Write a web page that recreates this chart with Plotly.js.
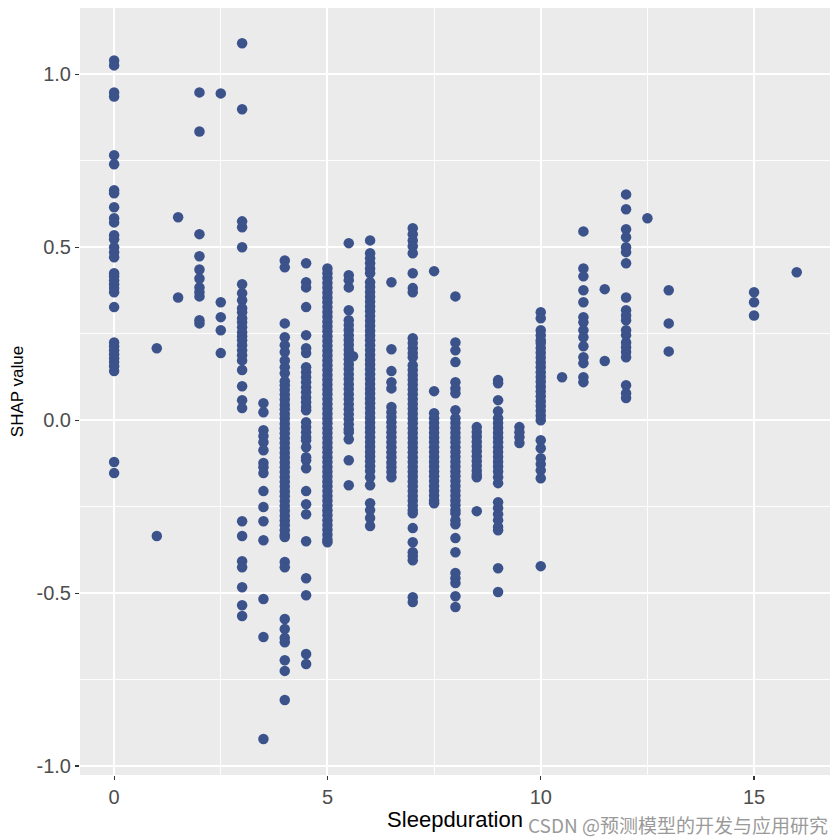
<!DOCTYPE html>
<html>
<head>
<meta charset="utf-8">
<script src="https://cdn.plot.ly/plotly-3.0.1.min.js"></script>
<style>html,body{margin:0;padding:0;background:#fff}#chart{width:840px;height:840px}</style>
</head>
<body>
<div id="chart"></div>
<script>
// Sleepduration values (x) and SHAP values (y) per column
const sleep0 = [1.040, 1.026, 0.948, 0.936, 0.766, 0.740, 0.665, 0.656, 0.616, 0.584, 0.572, 0.535, 0.523, 0.500, 0.486, 0.471, 0.425, 0.416, 0.405, 0.393, 0.382, 0.370, 0.327, 0.225, 0.214, 0.202, 0.191, 0.179, 0.168, 0.156, 0.142, -0.121, -0.153];
const sleep1 = [0.208, -0.335];
const sleep1_5 = [0.587, 0.355];
const sleep2 = [0.948, 0.835, 0.538, 0.474, 0.436, 0.410, 0.384, 0.370, 0.358, 0.289, 0.280];
const sleep2_5 = [0.945, 0.341, 0.298, 0.260, 0.194];
const sleep3 = [1.090, 0.899, 0.575, 0.558, 0.500, 0.393, 0.367, 0.347, 0.324, 0.312, 0.295, 0.283, 0.269, 0.254, 0.243, 0.231, 0.217, 0.202, 0.188, 0.173, 0.145, 0.098, 0.058, 0.035, -0.292, -0.335, -0.408, -0.425, -0.483, -0.535, -0.566];
const sleep3_5 = [0.049, 0.023, -0.029, -0.046, -0.064, -0.087, -0.124, -0.136, -0.153, -0.205, -0.251, -0.292, -0.347, -0.517, -0.627, -0.922];
const sleep4 = [0.462, 0.442, 0.280, 0.240, 0.217, 0.197, 0.173, 0.153, 0.136, 0.113, 0.101, 0.088, 0.074, 0.060, 0.045, 0.032, 0.018, 0.005, -0.010, -0.024, -0.038, -0.052, -0.066, -0.080, -0.094, -0.108, -0.122, -0.136, -0.150, -0.164, -0.178, -0.192, -0.206, -0.220, -0.234, -0.248, -0.262, -0.276, -0.290, -0.304, -0.318, -0.332, -0.338, -0.410, -0.425, -0.575, -0.604, -0.630, -0.642, -0.694, -0.725, -0.809];
const sleep4_5 = [0.454, 0.399, 0.384, 0.327, 0.246, 0.208, 0.194, 0.153, 0.139, 0.124, 0.110, 0.095, 0.081, 0.066, 0.052, 0.038, 0.029, -0.006, -0.020, -0.035, -0.049, -0.058, -0.078, -0.107, -0.116, -0.139, -0.205, -0.243, -0.272, -0.350, -0.457, -0.506, -0.676, -0.705];
const sleep5 = [0.439, 0.425, 0.411, 0.397, 0.383, 0.369, 0.355, 0.341, 0.327, 0.313, 0.299, 0.285, 0.271, 0.257, 0.243, 0.229, 0.215, 0.201, 0.187, 0.173, 0.159, 0.145, 0.131, 0.117, 0.103, 0.089, 0.075, 0.061, 0.047, 0.033, 0.019, 0.005, -0.009, -0.023, -0.037, -0.051, -0.065, -0.079, -0.093, -0.107, -0.121, -0.135, -0.149, -0.163, -0.177, -0.191, -0.205, -0.219, -0.233, -0.247, -0.261, -0.275, -0.289, -0.303, -0.317, -0.331, -0.345, -0.353];
const sleep5_5 = [0.512, 0.419, 0.405, 0.384, 0.318, 0.289, 0.275, 0.261, 0.246, 0.232, 0.218, 0.204, 0.190, 0.176, 0.162, 0.148, 0.133, 0.119, 0.104, 0.090, 0.075, 0.061, 0.046, 0.032, 0.017, 0.003, -0.012, -0.026, -0.035, -0.055, -0.116, -0.188];
const sleep5_6 = [0.185];
const sleep6 = [0.520, 0.483, 0.468, 0.454, 0.439, 0.425, 0.399, 0.385, 0.371, 0.357, 0.343, 0.329, 0.315, 0.301, 0.287, 0.273, 0.259, 0.245, 0.231, 0.217, 0.203, 0.189, 0.175, 0.161, 0.147, 0.133, 0.119, 0.105, 0.091, 0.077, 0.063, 0.049, 0.035, 0.021, 0.007, -0.007, -0.021, -0.035, -0.049, -0.063, -0.077, -0.091, -0.105, -0.119, -0.133, -0.147, -0.165, -0.188, -0.240, -0.260, -0.283, -0.306];
const sleep6_5 = [0.399, 0.205, 0.142, 0.110, 0.092, 0.038, 0.023, 0.009, -0.006, -0.020, -0.035, -0.049, -0.064, -0.078, -0.093, -0.107, -0.122, -0.136, -0.150, -0.165];
const sleep7 = [0.555, 0.538, 0.520, 0.503, 0.483, 0.425, 0.382, 0.370, 0.237, 0.223, 0.208, 0.194, 0.182, 0.159, 0.145, 0.131, 0.117, 0.103, 0.089, 0.075, 0.061, 0.047, 0.033, 0.019, 0.005, -0.009, -0.023, -0.037, -0.051, -0.065, -0.079, -0.093, -0.107, -0.121, -0.135, -0.149, -0.163, -0.177, -0.191, -0.205, -0.219, -0.233, -0.247, -0.260, -0.269, -0.312, -0.353, -0.382, -0.393, -0.405, -0.512, -0.526];
const sleep7_5 = [0.431, 0.084, 0.020, 0.006, -0.008, -0.022, -0.036, -0.050, -0.064, -0.078, -0.092, -0.106, -0.120, -0.134, -0.148, -0.162, -0.176, -0.190, -0.204, -0.218, -0.232, -0.240];
const sleep8 = [0.358, 0.225, 0.202, 0.168, 0.110, 0.092, 0.078, 0.029, 0.006, -0.008, -0.022, -0.036, -0.050, -0.064, -0.078, -0.092, -0.106, -0.120, -0.134, -0.148, -0.162, -0.176, -0.190, -0.204, -0.218, -0.232, -0.246, -0.260, -0.269, -0.289, -0.301, -0.341, -0.382, -0.442, -0.457, -0.471, -0.509, -0.540];
const sleep8_5 = [-0.020, -0.034, -0.048, -0.062, -0.076, -0.090, -0.104, -0.118, -0.132, -0.146, -0.158, -0.165, -0.263];
const sleep9 = [0.116, 0.107, 0.058, 0.026, 0.006, -0.008, -0.022, -0.036, -0.050, -0.064, -0.078, -0.092, -0.106, -0.120, -0.134, -0.148, -0.165, -0.182, -0.237, -0.254, -0.272, -0.289, -0.309, -0.318, -0.428, -0.497];
const sleep9_5 = [-0.020, -0.035, -0.049, -0.066];
const sleep10 = [0.312, 0.295, 0.260, 0.246, 0.231, 0.223, 0.209, 0.195, 0.181, 0.167, 0.153, 0.139, 0.125, 0.111, 0.097, 0.083, 0.069, 0.055, 0.041, 0.027, 0.013, 0.000, -0.058, -0.081, -0.110, -0.127, -0.145, -0.168, -0.422];
const sleep10_5 = [0.124];
const sleep11 = [0.546, 0.439, 0.416, 0.376, 0.341, 0.298, 0.283, 0.260, 0.240, 0.214, 0.182, 0.165, 0.124, 0.110];
const sleep11_5 = [0.379, 0.171];
const sleep12 = [0.653, 0.610, 0.552, 0.529, 0.500, 0.486, 0.454, 0.355, 0.318, 0.303, 0.289, 0.260, 0.246, 0.225, 0.211, 0.197, 0.182, 0.101, 0.078, 0.064];
const sleep12_5 = [0.584];
const sleep13 = [0.376, 0.280, 0.199];
const sleep15 = [0.370, 0.341, 0.303];
const sleep16 = [0.428];

const columns = [
  [0, sleep0], [1, sleep1], [1.5, sleep1_5], [2, sleep2], [2.5, sleep2_5], [3, sleep3], [3.5, sleep3_5],
  [4, sleep4], [4.5, sleep4_5], [5, sleep5], [5.5, sleep5_5], [5.6, sleep5_6], [6, sleep6], [6.5, sleep6_5],
  [7, sleep7], [7.5, sleep7_5], [8, sleep8], [8.5, sleep8_5], [9, sleep9], [9.5, sleep9_5], [10, sleep10],
  [10.5, sleep10_5], [11, sleep11], [11.5, sleep11_5], [12, sleep12], [12.5, sleep12_5], [13, sleep13],
  [15, sleep15], [16, sleep16]
];

const xs = [], ys = [];
columns.forEach(([xv, arr]) => arr.forEach(v => { xs.push(xv); ys.push(v); }));

const xTickVals = [0, 5, 10, 15];
const xTickText = ['0', '5', '10', '15'];
const yTickVals = [-1.0, -0.5, 0.0, 0.5, 1.0];
const yTickText = ['-1.0', '-0.5', '0.0', '0.5', '1.0'];

const trace = {
  type: 'scatter', mode: 'markers', x: xs, y: ys,
  marker: { color: '#3B528B', size: 10.5, line: { width: 0 } },
  hoverinfo: 'x+y', showlegend: false
};

const font = 'Liberation Sans, Arial, sans-serif';
const layout = {
  width: 840, height: 840,
  margin: { l: 80, r: 10, t: 8, b: 65 },
  paper_bgcolor: '#FFFFFF', plot_bgcolor: '#EBEBEB',
  font: { family: font },
  xaxis: {
    range: [-0.8, 16.78], tickvals: xTickVals, ticktext: xTickText,
    showgrid: true, gridcolor: '#FFFFFF', gridwidth: 2, zeroline: false, showline: false,
    ticks: 'outside', ticklen: 4, tickwidth: 1.2, tickcolor: '#333333',
    tickfont: { size: 20, color: '#4D4D4D', family: font },
    minor: { tickvals: [2.5, 7.5, 12.5], showgrid: true, gridcolor: '#FFFFFF', gridwidth: 0.9, ticks: '' },
    title: { text: 'Sleepduration', font: { size: 22, color: '#000000', family: font }, standoff: 4 }
  },
  yaxis: {
    range: [-1.026, 1.192], tickvals: yTickVals, ticktext: yTickText,
    showgrid: true, gridcolor: '#FFFFFF', gridwidth: 2, zeroline: false, showline: false,
    ticks: 'outside', ticklen: 4, tickwidth: 1.2, tickcolor: '#333333',
    tickfont: { size: 20, color: '#4D4D4D', family: font },
    minor: { tickvals: [-0.75, -0.25, 0.25, 0.75], showgrid: true, gridcolor: '#FFFFFF', gridwidth: 0.9, ticks: '' },
    title: { text: 'SHAP value', font: { size: 17, color: '#000000', family: font }, standoff: 8 }
  },
  annotations: [{
    text: 'CSDN @预测模型的开发与应用研究', xref: 'paper', yref: 'paper',
    x: 1.0, y: -0.065, xanchor: 'right', yanchor: 'middle', showarrow: false,
    font: { size: 19, color: '#9A9A9A', family: 'Noto Sans CJK SC, sans-serif' }
  }]
};

Plotly.newPlot('chart', [trace], layout, { displayModeBar: false, staticPlot: true });
</script>
</body>
</html>
